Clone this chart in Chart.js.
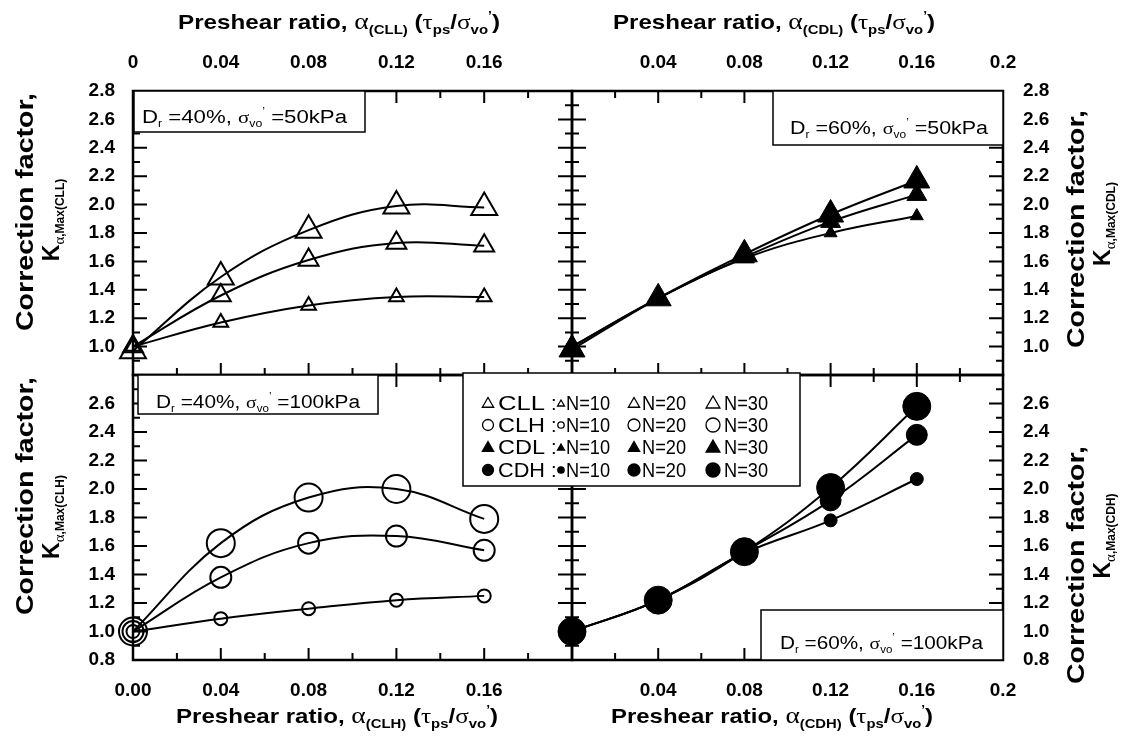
<!DOCTYPE html>
<html>
<head>
<meta charset="utf-8">
<script src="https://cdn.jsdelivr.net/npm/chart.js@4.4.1/dist/chart.umd.min.js"></script>
<style>
html,body{margin:0;padding:0;background:#fff;}
#wrap{position:relative;width:1121px;height:738px;overflow:hidden;background:#fff;}
#wrap canvas{position:absolute;left:0;top:0;}
</style>
</head>
<body>
<div id="wrap">
  <canvas id="cTL" width="1121" height="738"></canvas>
  <canvas id="cTR" width="1121" height="738"></canvas>
  <canvas id="cBL" width="1121" height="738"></canvas>
  <canvas id="cBR" width="1121" height="738"></canvas>
</div>
<script>
// preshear ratios tested
const alpha = [0, 0.04, 0.08, 0.12, 0.16];

// correction factor K (N = 10, 20, 30 cycles)
const cll10 = [1.00, 1.17, 1.29, 1.35, 1.35];
const cll20 = [1.00, 1.36, 1.61, 1.73, 1.71];
const cll30 = [0.97, 1.49, 1.82, 1.99, 1.98];

const cdl10 = [1.00, 1.34, 1.62, 1.80, 1.92];
const cdl20 = [1.00, 1.34, 1.63, 1.88, 2.07];
const cdl30 = [0.98, 1.34, 1.65, 1.93, 2.17];

const clh10 = [1.00, 1.09, 1.16, 1.22, 1.25];
const clh20 = [1.00, 1.38, 1.62, 1.67, 1.57];
const clh30 = [1.00, 1.62, 1.94, 2.00, 1.79];

const cdh10 = [1.00, 1.22, 1.55, 1.78, 2.07];
const cdh20 = [1.00, 1.22, 1.56, 1.92, 2.38];
const cdh30 = [1.00, 1.22, 1.56, 2.01, 2.58];

// tick labels
const xTicksTL = ['0', '0.04', '0.08', '0.12', '0.16'];
const xTicksBL = ['0.00', '0.04', '0.08', '0.12', '0.16'];
const xTicksR  = ['0.04', '0.08', '0.12', '0.16', '0.2'];
const yTicksTop = ['1.0', '1.2', '1.4', '1.6', '1.8', '2.0', '2.2', '2.4', '2.6', '2.8'];
const yTicksBot = ['0.8', '1.0', '1.2', '1.4', '1.6', '1.8', '2.0', '2.2', '2.4', '2.6'];

const cycleLabels = ['N=10', 'N=20', 'N=30'];
const legendNames = ['CLL', 'CLH', 'CDL', 'CDH'];

const SANS = "'Liberation Sans', Arial, sans-serif";
const SERIF = "'Liberation Serif', 'DejaVu Serif', serif";
const tickFont = { family: SANS, size: 19, weight: 'bold' };

function fontOf(p){ return (p.b ? 'bold ' : '') + p.s + 'px ' + (p.f || SANS); }

// text with sub/superscripts, optionally rotated and stretched to a width
function rich(ctx, parts, x, y, o){
  o = o || {};
  ctx.save();
  ctx.translate(x, y);
  if (o.rot) ctx.rotate(o.rot);
  let total = 0;
  const ws = parts.map(p => { ctx.font = fontOf(p); const w = ctx.measureText(p.t).width; total += w; return w; });
  const sx = o.width ? o.width / total : 1;
  ctx.scale(sx, 1);
  let cx = o.align === 'center' ? -total / 2 : 0;
  ctx.fillStyle = '#000';
  ctx.textAlign = 'left';
  ctx.textBaseline = 'alphabetic';
  parts.forEach((p, i) => { ctx.font = fontOf(p); ctx.fillText(p.t, cx, p.dy || 0); cx += ws[i]; });
  ctx.restore();
}

function xTitle(tag){
  return [
    {t: 'Preshear ratio, ', s: 21, b: true},
    {t: 'α', s: 24, f: SERIF},
    {t: '(' + tag + ')', s: 13, dy: 5, b: true},
    {t: ' (', s: 21, b: true},
    {t: 'τ', s: 22, f: SERIF},
    {t: 'ps', s: 13, dy: 5, b: true},
    {t: '/', s: 21, b: true},
    {t: 'σ', s: 22, f: SERIF},
    {t: 'vo', s: 13, dy: 5, b: true},
    {t: '\u2019', s: 12, dy: -9, b: true},
    {t: ')', s: 21, b: true}
  ];
}
function kTitle(tag){
  return [
    {t: 'K', s: 23, b: true},
    {t: 'α', s: 15, f: SERIF, dy: 5},
    {t: ',Max(' + tag + ')', s: 12, dy: 5, b: true}
  ];
}
function boxText(dr, sv){
  return [
    {t: 'D', s: 18},
    {t: 'r', s: 10, dy: 4},
    {t: ' =' + dr + ', ', s: 18},
    {t: 'σ', s: 17, f: SERIF},
    {t: 'vo', s: 10, dy: 4},
    {t: '\u2019', s: 10, dy: -8},
    {t: ' =' + sv, s: 18}
  ];
}

function marker(ctx, style, r, filled, x, y, bw){
  ctx.save();
  ctx.fillStyle = filled ? '#000' : 'rgba(0,0,0,0)';
  ctx.strokeStyle = '#000';
  ctx.lineWidth = bw;
  if (Chart.helpers && Chart.helpers.drawPoint) {
    Chart.helpers.drawPoint(ctx, {pointStyle: style, radius: r, rotation: 0, borderWidth: bw}, x, y);
  } else {
    ctx.beginPath();
    if (style === 'circle') ctx.arc(x, y, r, 0, Math.PI * 2);
    else { ctx.moveTo(x, y - r); ctx.lineTo(x + r * 0.866, y + r / 2); ctx.lineTo(x - r * 0.866, y + r / 2); ctx.closePath(); }
    ctx.fill(); ctx.stroke();
  }
  ctx.restore();
}

function frameAndTicks(chart){
  const {ctx, chartArea: a, scales: {x, y}} = chart;
  ctx.save();
  ctx.strokeStyle = '#000';
  ctx.lineWidth = 2;
  ctx.beginPath();
  for (let i = 0; i <= 10; i++) {
    const px = x.getPixelForValue(i * 0.02);
    const L = i % 2 === 0 ? 12 : 7;
    ctx.moveTo(px, a.top); ctx.lineTo(px, a.top + L);
    ctx.moveTo(px, a.bottom); ctx.lineTo(px, a.bottom - L);
  }
  for (let i = 0; i <= 20; i++) {
    const py = y.getPixelForValue(0.8 + i * 0.1);
    const L = i % 2 === 0 ? 14 : 7;
    ctx.moveTo(a.left, py); ctx.lineTo(a.left + L, py);
    ctx.moveTo(a.right, py); ctx.lineTo(a.right - L, py);
  }
  ctx.stroke();
  ctx.lineWidth = 2.5;
  ctx.strokeRect(a.left, a.top, a.right - a.left, a.bottom - a.top);
  ctx.restore();
}

function drawLegend(ctx){
  const bx = 463, by = 373, bw = 337, bh = 113;
  ctx.save();
  ctx.fillStyle = '#fff';
  ctx.fillRect(bx, by, bw, bh);
  ctx.strokeStyle = '#000';
  ctx.lineWidth = 1.5;
  ctx.strokeRect(bx, by, bw, bh);
  ctx.restore();
  const rowY = [403, 425, 447, 470];
  const styles = ['triangle', 'circle', 'triangle', 'circle'];
  const filled = [false, false, true, true];
  legendNames.forEach((nm, r) => {
    const tri = styles[r] === 'triangle';
    const cy = rowY[r] + (tri ? 1 : 0);
    const lead = tri ? 6.5 : 5.5;
    const sizes = tri ? [4, 6.5, 8] : [3.2, 6, 7];
    marker(ctx, styles[r], lead, filled[r], 488, cy, 1.3);
    rich(ctx, [{t: nm, s: 20}], 498, rowY[r] + 7, {width: 47});
    rich(ctx, [{t: ':', s: 20}], 551, rowY[r] + 7);
    const symX = [561, 634, 713];
    const txtX = [566, 642, 724];
    cycleLabels.forEach((lb, k) => {
      marker(ctx, styles[r], sizes[k], filled[r], symX[k], cy, 1.3);
      rich(ctx, [{t: lb, s: 20}], txtX[k], rowY[r] + 7, {width: 44});
    });
  });
}

function decor(cfg){
  return {
    id: 'decor',
    beforeDatasetsDraw(chart){ frameAndTicks(chart); },
    afterDatasetsDraw(chart){
      const ctx = chart.ctx;
      const b = cfg.box;
      ctx.save();
      ctx.fillStyle = '#fff';
      ctx.fillRect(b.x, b.y, b.w, b.h);
      ctx.strokeStyle = '#000';
      ctx.lineWidth = 1.5;
      ctx.strokeRect(b.x, b.y, b.w, b.h);
      ctx.restore();
      rich(ctx, b.parts, b.tx, b.ty, {width: b.tw});
      rich(ctx, xTitle(cfg.tag), cfg.title.cx, cfg.title.by, {align: 'center', width: 322});
      const yt = cfg.ytitle;
      rich(ctx, [{t: 'Correction factor,', s: 23, b: true}], yt.x1, yt.c1, {align: 'center', rot: -Math.PI / 2, width: 238});
      rich(ctx, kTitle(cfg.tag), yt.x2, yt.c2, {align: 'center', rot: -Math.PI / 2});
    },
    afterDraw(chart){ if (cfg.legend) drawLegend(chart.ctx); }
  };
}

function series(vals, style, r, filled){
  return {
    data: alpha.map((a, i) => ({x: a, y: vals[i]})),
    showLine: true,
    borderColor: '#000',
    borderWidth: 2,
    tension: 0.4,
    pointStyle: style,
    pointRadius: r,
    pointBorderWidth: filled ? 1 : 2,
    pointBorderColor: '#000',
    pointBackgroundColor: filled ? '#000' : 'rgba(0,0,0,0)',
    clip: false
  };
}

function makeChart(id, cfg){
  const top = cfg.xPos === 'top';
  const left = cfg.yPos === 'left';
  return new Chart(document.getElementById(id), {
    type: 'scatter',
    data: { datasets: cfg.sets },
    options: {
      responsive: false,
      animation: false,
      events: [],
      layout: { padding: cfg.pad },
      plugins: { legend: { display: false }, tooltip: { enabled: false } },
      scales: {
        x: {
          type: 'linear', position: cfg.xPos, min: 0, max: 0.2,
          grid: { display: false, drawTicks: false }, border: { display: false },
          afterBuildTicks: s => { s.ticks = cfg.xLabels.map(t => ({ value: parseFloat(t) })); },
          afterFit: s => { s.height = top ? 91 : 78; },
          ticks: { autoSkip: false, maxRotation: 0, color: '#000', font: tickFont, padding: top ? 17 : 19,
                   callback: (v, i) => cfg.xLabels[i] }
        },
        y: {
          type: 'linear', position: cfg.yPos, min: 0.8, max: 2.8,
          grid: { display: false, drawTicks: false }, border: { display: false },
          afterBuildTicks: s => { s.ticks = cfg.yLabels.map(t => ({ value: parseFloat(t) })); },
          afterFit: s => { s.width = left ? 133 : 118; },
          ticks: { autoSkip: false, color: '#000', font: tickFont, padding: left ? 18 : 20,
                   callback: (v, i) => cfg.yLabels[i] }
        }
      }
    },
    plugins: [decor(cfg)]
  });
}

const triR = [8.5, 11.5, 15];
const dotR = [6.5, 10.5, 14];

makeChart('cTL', {
  tag: 'CLL', xPos: 'top', yPos: 'left',
  pad: { left: 0, top: 0, right: 549, bottom: 363 },
  xLabels: xTicksTL, yLabels: yTicksTop,
  sets: [series(cll10, 'triangle', triR[0], false), series(cll20, 'triangle', triR[1], false), series(cll30, 'triangle', triR[2], false)],
  title: { cx: 339, by: 29 },
  ytitle: { x1: 33, c1: 212, x2: 59, c2: 220 },
  box: { x: 134, y: 91, w: 231, h: 41, tx: 142, ty: 123, tw: 205, parts: boxText('40%', '50kPa') }
});

makeChart('cTR', {
  tag: 'CDL', xPos: 'top', yPos: 'right',
  pad: { left: 572, top: 0, right: 0, bottom: 363 },
  xLabels: xTicksR, yLabels: yTicksTop,
  sets: [series(cdl10, 'triangle', 7.5, true), series(cdl20, 'triangle', triR[1], true), series(cdl30, 'triangle', triR[2], true)],
  title: { cx: 774, by: 29 },
  ytitle: { x1: 1084, c1: 229, x2: 1110, c2: 224 },
  box: { x: 773, y: 91, w: 230, h: 54, tx: 790, ty: 134, tw: 198, parts: boxText('60%', '50kPa') }
});

makeChart('cBL', {
  tag: 'CLH', xPos: 'bottom', yPos: 'left',
  pad: { left: 0, top: 375, right: 549, bottom: 0 },
  xLabels: xTicksBL, yLabels: yTicksBot,
  sets: [series(clh10, 'circle', dotR[0], false), series(clh20, 'circle', dotR[1], false), series(clh30, 'circle', dotR[2], false)],
  title: { cx: 337, by: 723 },
  ytitle: { x1: 33, c1: 496, x2: 59, c2: 517 },
  box: { x: 138, y: 375, w: 240, h: 39, tx: 156, ty: 408, tw: 204, parts: boxText('40%', '100kPa') }
});

makeChart('cBR', {
  tag: 'CDH', xPos: 'bottom', yPos: 'right',
  pad: { left: 572, top: 375, right: 0, bottom: 0 },
  xLabels: xTicksR, yLabels: yTicksBot,
  sets: [series(cdh10, 'circle', dotR[0], true), series(cdh20, 'circle', dotR[1], true), series(cdh30, 'circle', dotR[2], true)],
  title: { cx: 772, by: 723 },
  ytitle: { x1: 1084, c1: 565, x2: 1110, c2: 536 },
  box: { x: 761, y: 610, w: 242, h: 50, tx: 780, ty: 649, tw: 203, parts: boxText('60%', '100kPa') },
  legend: true
});
</script>
</body>
</html>
